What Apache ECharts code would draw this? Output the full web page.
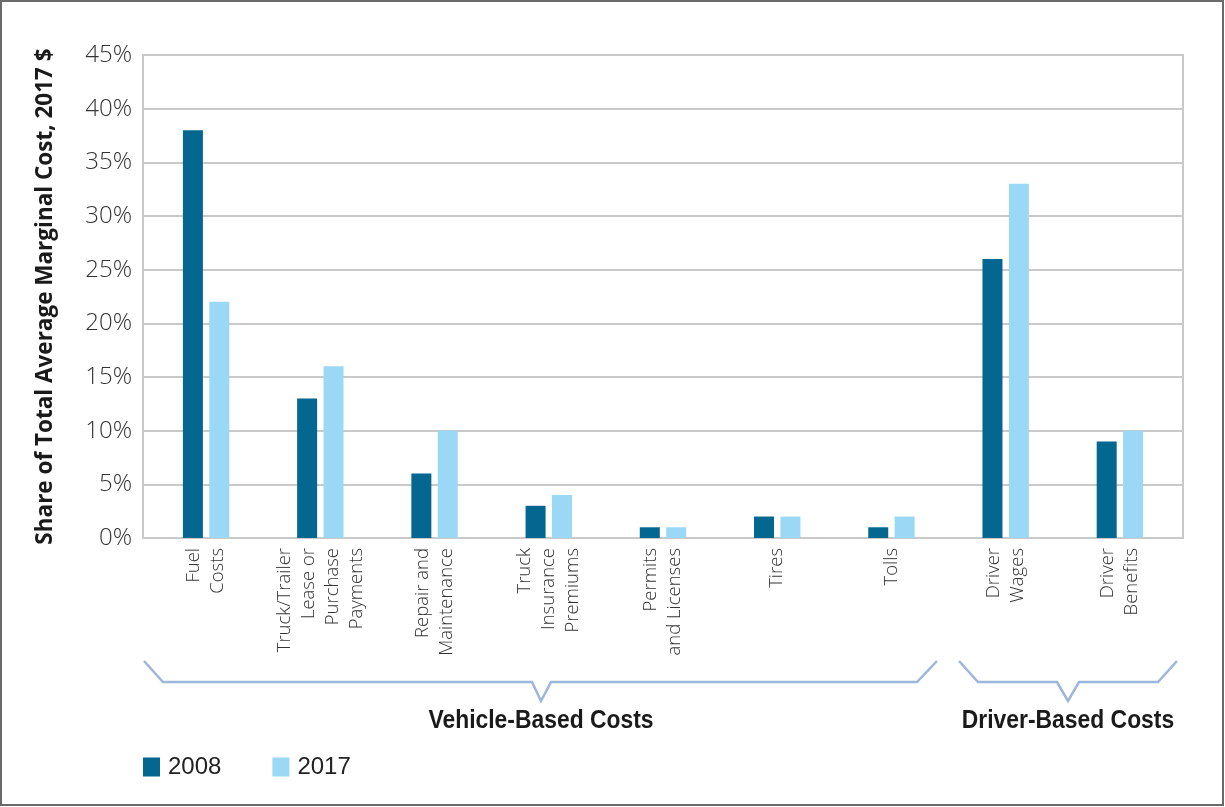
<!DOCTYPE html>
<html>
<head>
<meta charset="utf-8">
<script src="https://cdn.jsdelivr.net/npm/echarts@6/dist/echarts.min.js"></script>
<style>
html,body{margin:0;padding:0;background:#fff;}
#chart{width:1225px;height:807px;}
</style>
</head>
<body>
<div id="chart"></div>
<script>
const categories = [
  "Fuel\nCosts",
  "Truck/Trailer\nLease or\nPurchase\nPayments",
  "Repair and\nMaintenance",
  "Truck\nInsurance\nPremiums",
  "Permits\nand Licenses",
  "Tires",
  "Tolls",
  "Driver\nWages",
  "Driver\nBenefits"
];
const values2008 = [38, 13, 6, 3, 1, 2, 1, 26, 9];
const values2017 = [22, 16, 10, 4, 1, 2, 2, 33, 10];
const yTicks = [0, 5, 10, 15, 20, 25, 30, 35, 40, 45];
const groupLabels = ["Vehicle-Based Costs", "Driver-Based Costs"];
const seriesNames = ["2008", "2017"];

const chart = echarts.init(document.getElementById('chart'), null, {renderer: 'canvas'});
const gridLineColor = '#c9c9c9';
const bracketColor = '#9db6dc';
const labelFont = '"Open Sans", "Liberation Sans", sans-serif';

const option = {
  backgroundColor: '#ffffff',
  animation: false,
  grid: [
    {left: 143, right: 42, top: 55, bottom: 269, show: true, borderColor: gridLineColor, borderWidth: 2, backgroundColor: 'transparent'},
    {left: 149, right: 48, top: 55, bottom: 269}
  ],
  legend: {
    data: seriesNames,
    left: 138, top: 750,
    itemWidth: 17, itemHeight: 19, itemGap: 51,
    icon: 'rect',
    textStyle: {fontFamily: '"Liberation Sans", sans-serif', fontSize: 24, color: '#222', padding: [0,0,0,3]}
  },
  xAxis: [
    {type: 'value', gridIndex: 0, min: 0, max: 1, show: false},
    {
      type: 'category', gridIndex: 1, data: categories,
      axisLine: {show: false}, axisTick: {show: false},
      axisLabel: {
        rotate: 90, interval: 0, margin: 10,
        fontFamily: labelFont, fontWeight: 300, fontSize: 18.5, lineHeight: 24, color: '#333'
      }
    }
  ],
  yAxis: [
    {
      type: 'value', gridIndex: 0, min: yTicks[0], max: yTicks[yTicks.length-1], interval: 5,
      axisLine: {show: true, lineStyle: {color: gridLineColor, width: 2}},
      axisTick: {show: false},
      splitLine: {show: true, lineStyle: {color: gridLineColor, width: 2}},
      axisLabel: {formatter: '{value}%', fontFamily: labelFont, fontWeight: 300, fontSize: 24, color: '#333', margin: 11},
      name: 'Share of Total Average Marginal Cost, 2017 $',
      nameLocation: 'middle', nameGap: 86, nameRotate: 90,
      nameTextStyle: {fontFamily: labelFont, fontWeight: 'bold', fontSize: 22.5, color: '#1a1a1a'}
    },
    {type: 'value', gridIndex: 1, min: yTicks[0], max: yTicks[yTicks.length-1], show: false}
  ],
  series: [
    {name: seriesNames[0], type: 'bar', xAxisIndex: 1, yAxisIndex: 1, data: values2008, barWidth: 20, barGap: '32%', itemStyle: {color: '#03678f'}},
    {name: seriesNames[1], type: 'bar', xAxisIndex: 1, yAxisIndex: 1, data: values2017, barWidth: 20, barGap: '32%', itemStyle: {color: '#9ad8f5'}}
  ],
  graphic: [
    {type: 'rect', shape: {x: 1, y: 1, width: 1222, height: 804}, style: {fill: 'none', stroke: '#6a6a6a', lineWidth: 2}, silent: true, z: 100},
    {type: 'polyline', shape: {points: [[144,661],[163,682],[532,682],[541,701],[551,682],[917,682],[937,661]]}, style: {fill: 'none', stroke: bracketColor, lineWidth: 2.5}, silent: true},
    {type: 'polyline', shape: {points: [[959,661],[978,682],[1057,682],[1068,701],[1079,682],[1158,682],[1177,661]]}, style: {fill: 'none', stroke: bracketColor, lineWidth: 2.5}, silent: true},
    {type: 'text', x: 541, y: 721, scaleX: 0.88, originX: 0, originY: 0, style: {text: groupLabels[0], align: 'center', verticalAlign: 'middle', font: 'bold 26px "Liberation Sans", sans-serif', fill: '#1a1a1a'}, silent: true},
    {type: 'text', x: 1068, y: 721, scaleX: 0.88, originX: 0, originY: 0, style: {text: groupLabels[1], align: 'center', verticalAlign: 'middle', font: 'bold 26px "Liberation Sans", sans-serif', fill: '#1a1a1a'}, silent: true}
  ]
};
chart.setOption(option);
</script>
</body>
</html>
